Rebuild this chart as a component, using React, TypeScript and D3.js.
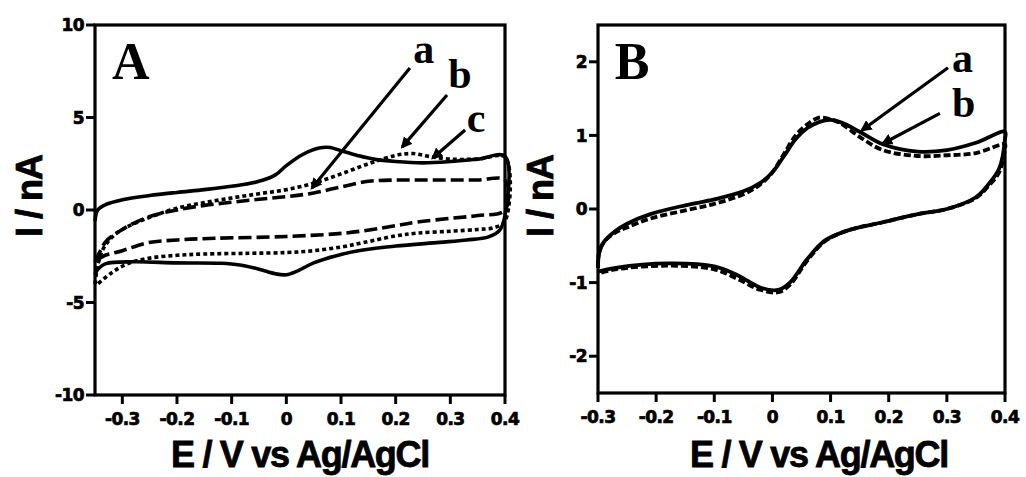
import { useEffect, useRef } from 'react';
import * as d3 from 'd3';

// Panel A: three voltammograms, a = solid, b = dotted, c = dashed (E in V, I in nA)
// each curve is one loop: forward scan then reverse scan
const curveA_a_E = [-0.35, -0.345, -0.33, -0.3, -0.25, -0.2, -0.15, -0.1, -0.05, -0.02, 0, 0.03, 0.06, 0.08, 0.1, 0.13, 0.16, 0.2, 0.25, 0.3, 0.35, 0.4,
  0.4, 0.39, 0.37, 0.33, 0.28, 0.2, 0.14, 0.1, 0.05, 0.02, 0, -0.02, -0.05, -0.085, -0.12, -0.2, -0.28, -0.33, -0.345, -0.35];
const curveA_a_I = [-0.6, 0.0, 0.3, 0.55, 0.78, 0.95, 1.1, 1.28, 1.55, 1.9, 2.4, 3.0, 3.35, 3.38, 3.2, 2.95, 2.75, 2.62, 2.55, 2.62, 2.75, 2.9,
  -0.3, -1.1, -1.45, -1.62, -1.75, -1.95, -2.16, -2.4, -2.86, -3.3, -3.5, -3.45, -3.2, -2.97, -2.88, -2.86, -2.8, -2.9, -3.2, -3.5];

const curveA_b_E = [-0.35, -0.345, -0.335, -0.32, -0.3, -0.25, -0.2, -0.15, -0.1, -0.05, 0, 0.05, 0.1, 0.15, 0.2, 0.23, 0.26, 0.3, 0.35, 0.4,
  0.4, 0.38, 0.35, 0.3, 0.24, 0.2, 0.14, 0.1, 0.05, 0, -0.07, -0.15, -0.2, -0.25, -0.29, -0.32, -0.345];
const curveA_b_I = [-4.0, -3.0, -2.1, -1.5, -1.05, -0.4, 0.1, 0.4, 0.65, 0.88, 1.1, 1.45, 1.95, 2.5, 2.95, 3.05, 2.9, 2.75, 2.75, 2.85,
  -0.6, -0.95, -1.05, -1.15, -1.25, -1.4, -1.77, -2.0, -2.2, -2.3, -2.34, -2.38, -2.45, -2.6, -2.9, -3.4, -4.0];

const curveA_c_E = [-0.35, -0.34, -0.33, -0.3, -0.25, -0.2, -0.15, -0.1, -0.05, 0, 0.05, 0.1, 0.15, 0.2, 0.25, 0.3, 0.35, 0.4,
  0.4, 0.35, 0.3, 0.24, 0.2, 0.11, 0, -0.13, -0.2, -0.255, -0.3, -0.335, -0.35];
const curveA_c_I = [-2.8, -2.2, -1.7, -1.05, -0.35, 0.0, 0.25, 0.42, 0.58, 0.72, 0.92, 1.25, 1.55, 1.62, 1.62, 1.62, 1.62, 1.62,
  0.0, -0.3, -0.45, -0.65, -0.85, -1.24, -1.43, -1.53, -1.62, -1.78, -2.2, -2.5, -2.8];

// Panel B: a = solid, b = dashed
const curveB_a_E = [-0.3, -0.298, -0.29, -0.27, -0.25, -0.21, -0.15, -0.1, -0.05, -0.02, 0, 0.02, 0.04, 0.06, 0.08, 0.1, 0.12, 0.15, 0.19, 0.25, 0.3, 0.35, 0.4,
  0.4, 0.39, 0.37, 0.35, 0.3, 0.25, 0.19, 0.13, 0.09, 0.06, 0.03, 0.01, -0.02, -0.06, -0.1, -0.18, -0.27, -0.3];
const curveB_a_I = [-0.8, -0.6, -0.45, -0.3, -0.2, -0.07, 0.05, 0.13, 0.24, 0.36, 0.5, 0.72, 0.95, 1.1, 1.18, 1.21, 1.17, 1.05, 0.88, 0.78, 0.8, 0.9, 1.05,
  0.95, 0.55, 0.32, 0.16, 0.0, -0.07, -0.18, -0.29, -0.43, -0.68, -1.0, -1.1, -1.07, -0.9, -0.78, -0.74, -0.8, -0.85];

const curveB_b_E = [-0.3, -0.298, -0.29, -0.27, -0.25, -0.21, -0.15, -0.1, -0.05, -0.02, 0, 0.02, 0.04, 0.06, 0.08, 0.1, 0.12, 0.15, 0.19, 0.25, 0.3, 0.35, 0.4,
  0.4, 0.39, 0.37, 0.35, 0.3, 0.25, 0.19, 0.13, 0.09, 0.06, 0.03, 0.01, -0.02, -0.06, -0.1, -0.18, -0.27, -0.3];
const curveB_b_I = [-0.8, -0.58, -0.45, -0.32, -0.25, -0.13, -0.02, 0.07, 0.2, 0.34, 0.5, 0.75, 1.0, 1.15, 1.24, 1.22, 1.15, 0.98, 0.8, 0.72, 0.73, 0.76, 0.88,
  0.82, 0.5, 0.3, 0.15, 0.0, -0.07, -0.18, -0.29, -0.44, -0.7, -1.03, -1.13, -1.1, -0.95, -0.82, -0.77, -0.82, -0.88];

// ticks
const ticksA_x = [-0.3, -0.2, -0.1, 0, 0.1, 0.2, 0.3, 0.4];
const ticksA_y = [-10, -5, 0, 5, 10];
const ticksB_x = [-0.3, -0.2, -0.1, 0, 0.1, 0.2, 0.3, 0.4];
const ticksB_y = [-2, -1, 0, 1, 2];

// annotations in data units: [label, labelE, labelI, fromE, fromI, toE, toI]
const notesA: [string, number, number, number, number, number, number][] = [
  ['a', 0.232, 7.95, 0.226, 7.68, 0.047, 1.19],
  ['b', 0.296, 6.6, 0.294, 6.22, 0.212, 3.41],
  ['c', 0.33, 4.22, 0.327, 4.32, 0.268, 2.81],
];
const notesB: [string, number, number, number, number, number, number][] = [
  ['a', 0.309, 1.86, 0.302, 1.92, 0.154, 1.07],
  ['b', 0.309, 1.25, 0.288, 1.3, 0.19, 0.89],
];

const sans = '"Liberation Sans", Arial, sans-serif';
const tickFont = '"DejaVu Sans", sans-serif';
const serif = '"Liberation Serif", "Times New Roman", serif';

export default function App() {
  const svgRef = useRef<SVGSVGElement>(null);

  useEffect(() => {
    const svg = d3.select(svgRef.current);
    svg.selectAll('*').remove();

    svg.append('defs').append('marker')
      .attr('id', 'arrowHead')
      .attr('viewBox', '0 0 10 10')
      .attr('refX', 8).attr('refY', 5)
      .attr('markerWidth', 3.6).attr('markerHeight', 3.6)
      .attr('orient', 'auto')
      .append('path').attr('d', 'M0,0 L10,5 L0,10 z').attr('fill', '#000');

    const fmt = (d: number) => `${+d.toFixed(1)}`;

    function drawPanel(cfg: any) {
      const { left, top, right, bottom } = cfg.box;
      const x = d3.scaleLinear().domain(cfg.xDomain).range([left, right]);
      const y = d3.scaleLinear().domain(cfg.yDomain).range([bottom, top]);
      const g = svg.append('g');

      // curves
      const line = d3.line<[number, number]>()
        .x(d => x(d[0]))
        .y(d => y(d[1]))
        .curve(d3.curveCatmullRom.alpha(0.5));
      cfg.curves.forEach((c: any) => {
        const pts = c.E.map((e: number, i: number) => [e, c.I[i]] as [number, number]);
        g.append('path')
          .attr('d', line(pts))
          .attr('fill', 'none')
          .attr('stroke', '#000')
          .attr('stroke-width', c.width)
          .attr('stroke-dasharray', c.dash)
          .attr('stroke-linejoin', 'round');
      });

      // tick marks + labels
      const xt = g.append('g').selectAll('g').data(cfg.xTicks).join('g')
        .attr('transform', (d: any) => `translate(${x(d)},${bottom})`);
      xt.append('line').attr('y2', 9).attr('stroke', '#000').attr('stroke-width', 3);
      xt.append('text')
        .attr('y', 30)
        .attr('text-anchor', 'middle')
        .attr('font-family', tickFont).attr('font-weight', 'bold').attr('font-size', 17)
        .attr('letter-spacing', -0.6)
        .attr('stroke', '#000').attr('stroke-width', 0.7)
        .text((d: any) => fmt(d));

      const yt = g.append('g').selectAll('g').data(cfg.yTicks).join('g')
        .attr('transform', (d: any) => `translate(${left},${y(d)})`);
      yt.append('line').attr('x2', -9).attr('stroke', '#000').attr('stroke-width', 3);
      yt.append('text')
        .attr('x', -11).attr('dy', '0.36em')
        .attr('text-anchor', 'end')
        .attr('font-family', tickFont).attr('font-weight', 'bold').attr('font-size', 17)
        .attr('letter-spacing', -0.6)
        .attr('stroke', '#000').attr('stroke-width', 0.7)
        .text((d: any) => fmt(d));

      // frame
      g.append('rect')
        .attr('x', left).attr('y', top)
        .attr('width', right - left).attr('height', bottom - top)
        .attr('fill', 'none').attr('stroke', '#000').attr('stroke-width', 3.2);

      // panel letter
      g.append('text')
        .attr('x', x(cfg.letter[1])).attr('y', y(cfg.letter[2]))
        .attr('font-family', serif).attr('font-weight', 'bold').attr('font-size', 52)
        .text(cfg.letter[0]);

      // annotations
      cfg.notes.forEach((n: any) => {
        g.append('line')
          .attr('x1', x(n[3])).attr('y1', y(n[4]))
          .attr('x2', x(n[5])).attr('y2', y(n[6]))
          .attr('stroke', '#000').attr('stroke-width', 3.2)
          .attr('marker-end', 'url(#arrowHead)');
        g.append('text')
          .attr('x', x(n[1])).attr('y', y(n[2]))
          .attr('font-family', serif).attr('font-weight', 'bold').attr('font-size', 42)
          .text(n[0]);
      });

      // axis titles
      g.append('text')
        .attr('x', cfg.xTitleX).attr('y', 467)
        .attr('text-anchor', 'middle')
        .attr('font-family', sans).attr('font-weight', 'bold').attr('font-size', 36)
        .attr('letter-spacing', -1.3)
        .attr('stroke', '#000').attr('stroke-width', 0.8)
        .text('E / V vs Ag/AgCl');
      g.append('text')
        .attr('transform', `translate(${cfg.yTitleX},196) rotate(-90)`)
        .attr('text-anchor', 'middle')
        .attr('font-family', sans).attr('font-weight', 'bold').attr('font-size', 36)
        .attr('letter-spacing', -1)
        .attr('stroke', '#000').attr('stroke-width', 0.8)
        .text('I / nA');
    }

    drawPanel({
      box: { left: 95, top: 25, right: 505, bottom: 395 },
      xDomain: [-0.35, 0.4], yDomain: [-10, 10],
      xTicks: ticksA_x, yTicks: ticksA_y,
      curves: [
        { E: curveA_a_E, I: curveA_a_I, dash: null, width: 3.6 },
        { E: curveA_b_E, I: curveA_b_I, dash: '4,3', width: 3.6 },
        { E: curveA_c_E, I: curveA_c_I, dash: '13,5', width: 3.6 },
      ],
      letter: ['A', -0.319, 7.08],
      notes: notesA,
      xTitleX: 300, yTitleX: 42,
    });

    drawPanel({
      box: { left: 598, top: 25, right: 1005, bottom: 393 },
      xDomain: [-0.3, 0.4], yDomain: [-2.5, 2.5],
      xTicks: ticksB_x, yTicks: ticksB_y,
      curves: [
        { E: curveB_a_E, I: curveB_a_I, dash: null, width: 3.8 },
        { E: curveB_b_E, I: curveB_b_I, dash: '7,3', width: 3.8 },
      ],
      letter: ['B', -0.271, 1.77],
      notes: notesB,
      xTitleX: 819, yTitleX: 553,
    });
  }, []);

  return (
    <svg ref={svgRef} width={1026} height={477}
      style={{ position: 'absolute', left: 0, top: 0, background: '#fff' }} />
  );
}
